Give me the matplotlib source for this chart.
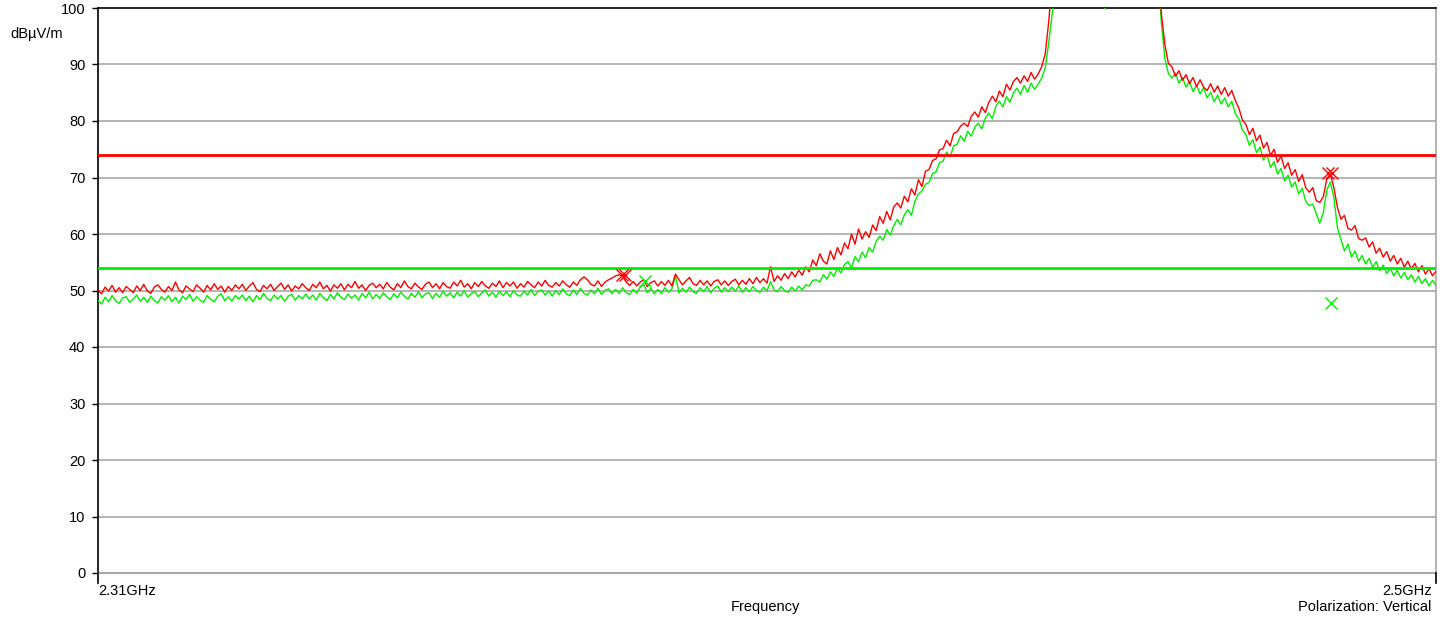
import numpy as np
import matplotlib
matplotlib.use("Agg")
import matplotlib.pyplot as plt

plt.rcParams['font.family'] = ['Liberation Sans', 'DejaVu Sans']

# Frequency axis (GHz), 0.5 MHz sweep points
f_start, f_stop = 2.31, 2.50
n_points = 381

red_trace = [
    50.1, 49.4, 50.6, 49.9, 50.9, 49.7, 50.5, 49.6, 50.7, 50.2, 49.6, 50.8, 50.0, 51.1, 49.9, 49.5, 50.6, 51.0, 50.2, 49.7,
    50.7, 50.0, 51.5, 50.1, 49.6, 50.8, 50.3, 49.8, 51.0, 50.4, 49.7, 50.9, 50.1, 51.2, 50.2, 50.8, 49.7, 50.7, 50.0, 51.0,
    50.3, 51.1, 50.0, 50.8, 51.4, 50.2, 49.8, 50.9, 50.3, 51.1, 50.0, 50.7, 51.3, 50.2, 51.0, 49.9, 50.8, 50.3, 51.2, 50.5,
    50.0, 51.1, 50.5, 51.5, 50.3, 50.9, 49.9, 51.0, 50.4, 51.2, 50.1, 51.1, 50.5, 51.6, 50.4, 51.0, 50.0, 50.9, 51.3, 50.5,
    51.1, 50.3, 51.4, 50.6, 50.1, 51.2, 50.5, 51.7, 50.7, 50.3, 51.3, 50.6, 50.2, 51.1, 51.5, 50.5, 51.2, 50.3, 51.4, 50.7,
    50.4, 51.5, 50.8, 51.8, 50.6, 51.2, 50.3, 51.4, 50.7, 51.6, 50.8, 50.4, 51.3, 50.7, 51.7, 50.5, 51.4, 50.8, 51.5, 50.4,
    51.2, 50.6, 51.6, 51.0, 50.5, 51.5, 50.8, 51.8, 50.9, 50.6, 51.4, 50.8, 51.7, 51.0, 50.6, 51.5, 50.9, 51.9, 52.4, 51.9,
    51.1, 50.8, 51.7, 50.7, 51.5, 51.9, 52.2, 52.6, 52.8, 52.5, 51.5, 50.9, 51.6, 50.8, 51.5, 51.9, 50.7, 51.4, 51.7, 50.8,
    51.6, 50.9, 51.8, 50.8, 52.9, 51.9, 51.0, 51.7, 52.3, 51.2, 50.9, 51.8, 51.0, 51.7, 50.8, 51.6, 51.9, 51.0, 51.7, 50.9,
    51.6, 52.0, 51.0, 51.8, 51.1, 52.1, 51.2, 52.3, 51.4, 52.1, 51.3, 54.2, 51.6, 52.6, 51.8, 53.0, 52.1, 53.3, 52.4, 53.6,
    52.7, 54.2, 53.3, 55.4, 54.4, 56.5, 55.2, 54.7, 57.0, 55.5, 57.6, 56.3, 58.4, 57.4, 60.0, 58.2, 60.9, 59.1, 60.4, 59.4,
    61.6, 60.6, 63.1, 61.9, 64.0, 62.5, 64.8, 65.5, 64.6, 66.7, 65.7, 68.0, 66.9, 69.6, 68.4, 71.1, 71.4, 73.0, 73.3, 74.9,
    75.1, 76.6, 75.6, 77.8, 78.1, 79.1, 79.6, 79.0, 80.8, 81.6, 80.7, 82.5, 81.5, 83.3, 84.4, 83.4, 85.3, 84.3, 86.5, 85.5,
    87.0, 87.7, 86.7, 88.0, 87.0, 88.6, 87.4, 88.3, 89.6, 91.8, 97.5, 105.0, 110.0, 112.0, 112.0, 112.0, 112.0, 112.0, 112.0, 112.0,
    112.0, 112.0, 112.0, 112.0, 112.0, 112.0, 112.0, 112.0, 112.0, 112.0, 112.0, 112.0, 112.0, 112.0, 112.0, 112.0, 112.0, 112.0, 112.0, 112.0,
    112.0, 108.0, 99.0, 93.5, 90.2, 89.6, 87.9, 88.9, 87.2, 88.2, 86.6, 87.7, 86.1, 87.3, 86.0, 85.4, 86.6, 85.1, 86.2, 84.7,
    85.9, 84.4, 85.4, 83.6, 82.3, 80.2, 79.4, 77.6, 78.7, 76.5, 77.5, 75.2, 76.2, 73.9, 75.0, 72.7, 73.8, 71.6, 72.6, 70.4,
    71.4, 69.3, 70.5, 68.2, 67.4, 68.2, 65.9, 65.6, 66.6, 69.8, 70.6, 68.2, 64.7, 62.6, 63.3, 61.0, 60.7, 61.5, 59.2, 58.9,
    59.3, 57.7, 58.6, 56.6, 57.5, 55.9, 56.9, 55.2, 56.2, 54.7, 55.7, 54.1, 55.2, 53.8, 54.8, 53.3, 54.4, 52.9, 53.9, 52.6,
    53.4,
]

green_trace = [
    48.2, 47.6, 48.8, 48.0, 49.1, 48.2, 47.7, 48.7, 48.9, 47.9, 48.5, 49.2, 48.1, 48.8, 47.9, 49.0, 48.2, 47.8, 48.9, 48.3,
    49.1, 48.0, 48.8, 47.8, 49.0, 48.4, 49.3, 48.1, 48.9, 48.3, 47.9, 49.1, 48.4, 48.0, 49.0, 49.4, 48.2, 48.9, 48.1, 49.1,
    48.5, 49.2, 48.2, 49.0, 48.0, 49.1, 48.4, 49.5, 48.6, 48.2, 49.2, 48.5, 49.1, 48.1, 49.0, 49.3, 48.3, 49.1, 48.5, 49.4,
    48.5, 49.2, 48.3, 49.5, 48.7, 48.2, 49.3, 48.5, 49.6, 48.8, 48.4, 49.4, 48.6, 49.2, 48.3, 49.5, 48.7, 49.7, 48.5, 49.3,
    48.6, 49.6, 48.9, 48.4, 49.4, 48.7, 49.7, 49.0, 48.5, 49.5, 48.8, 49.8, 48.7, 49.4, 49.6, 48.6, 49.5, 48.8, 49.9, 49.0,
    49.6, 48.7, 49.7, 49.0, 50.0, 48.8, 49.5, 49.8, 48.9, 49.6, 50.1, 49.0, 49.7, 48.8, 49.9, 49.1, 49.8, 48.9, 50.0, 49.2,
    49.0, 49.9, 49.2, 50.2, 49.1, 49.8, 50.1, 49.2, 49.9, 49.0, 50.0, 49.3, 50.3, 49.4, 49.1, 50.1, 49.3, 50.4, 49.5, 49.2,
    50.1, 49.4, 50.4, 49.3, 50.0, 50.3, 49.4, 50.2, 49.5, 50.5, 49.6, 49.3, 50.2, 49.5, 50.6, 51.1, 49.6, 50.4, 49.4, 50.2,
    49.5, 50.5, 49.7, 50.3, 52.6, 49.6, 50.4, 49.7, 50.6, 49.8, 49.5, 50.5, 49.8, 50.7, 49.6, 50.4, 50.8, 49.7, 50.5, 49.8,
    50.6, 49.9, 50.8, 49.7, 50.5, 49.8, 50.7, 50.0, 49.7, 50.6, 49.9, 51.6, 50.1, 49.8, 50.7, 50.0, 49.7, 50.6, 49.9, 50.8,
    50.1, 51.0, 50.8, 51.8, 51.9, 51.5, 52.8, 52.0, 53.3, 52.5, 54.0, 53.1, 54.6, 55.1, 54.0, 56.0, 55.1, 56.8, 55.8, 57.6,
    56.8, 58.7, 59.6, 58.9, 60.8, 59.8, 61.5, 62.6, 61.6, 63.4, 64.3, 63.3, 65.8, 67.1, 67.6, 68.8, 69.1, 70.7, 71.0, 72.6,
    72.9, 74.5, 73.6, 75.6, 75.9, 77.4, 76.4, 78.2, 77.3, 78.9, 79.6, 78.6, 80.5, 81.4, 80.4, 82.6, 83.5, 82.5, 84.3, 83.3,
    85.0, 85.8, 84.7, 86.3, 85.1, 86.7, 85.6, 86.5, 87.6, 89.3, 93.8, 99.0, 106.0, 112.0, 112.0, 112.0, 112.0, 112.0, 112.0, 112.0,
    112.0, 112.0, 112.0, 112.0, 112.0, 108.0, 99.8, 108.0, 112.0, 112.0, 112.0, 112.0, 112.0, 112.0, 112.0, 112.0, 112.0, 112.0, 112.0, 112.0,
    112.0, 106.0, 97.5, 91.0, 88.4, 87.6, 88.5, 86.7, 87.7, 86.0, 87.0, 85.2, 86.3, 84.8, 85.9, 84.1, 85.1, 83.4, 84.6, 83.0,
    84.1, 82.5, 83.5, 81.3, 80.4, 78.4, 77.6, 75.7, 76.7, 74.4, 75.4, 73.1, 74.1, 71.8, 72.8, 70.6, 71.6, 69.4, 70.4, 68.3,
    69.2, 67.1, 68.1, 65.8, 65.0, 65.3, 63.6, 61.9, 63.8, 67.8, 69.2, 66.5, 61.1, 59.0, 57.0, 58.2, 55.9, 57.0, 55.2, 56.2,
    54.7, 55.7, 54.1, 55.1, 53.5, 54.5, 53.0, 54.0, 52.6, 53.6, 52.2, 53.2, 51.9, 52.8, 51.5, 52.5, 51.2, 52.1, 50.8, 51.8,
    50.9,
]

# Limit lines (dBuV/m)
limit_peak = 74
limit_avg = 54

# Markers (GHz, dBuV/m)
red_marker_f = [2.3844, 2.3848, 2.4847, 2.4853]
red_marker_v = [52.7, 52.7, 70.8, 70.8]
green_marker_f = [2.3877, 2.4851]
green_marker_v = [51.7, 47.8]

y_ticks = [0, 10, 20, 30, 40, 50, 60, 70, 80, 90, 100]

freq = np.linspace(f_start, f_stop, n_points)

W, H = 1450, 623
fig = plt.figure(figsize=(W / 100, H / 100), dpi=100)
ax = fig.add_axes([98 / W, 1 - 573 / H, (1436 - 98) / W, (573 - 8) / H])

RED = '#ff0000'
GREEN = '#00ee00'
GRID = '#a8a8a8'
FS = 10.5

for yv in y_ticks[1:-1]:
    ax.axhline(yv, color=GRID, lw=1.2, zorder=1)

ax.plot(freq, green_trace, color=GREEN, lw=1.0, zorder=3)
ax.plot(freq, red_trace, color=RED, lw=1.0, zorder=4)

ax.axhline(limit_peak, color=RED, lw=2.0, zorder=5)
ax.axhline(limit_avg, color=GREEN, lw=2.0, zorder=5)

ax.plot(red_marker_f, red_marker_v, linestyle='none', marker='x', color=RED,
        markersize=8, markeredgewidth=1.0, zorder=6)
ax.plot(green_marker_f, green_marker_v, linestyle='none', marker='x', color=GREEN,
        markersize=9, markeredgewidth=1.0, zorder=6)

ax.set_xlim(f_start, f_stop)
ax.set_ylim(0, 100)
ax.set_yticks(y_ticks)
ax.set_yticklabels([str(v) for v in y_ticks], fontsize=FS)
ax.tick_params(axis='y', direction='out', length=4, width=1, pad=5, color='black')
ax.set_xticks([])

ax.spines['top'].set_color('black')
ax.spines['top'].set_linewidth(1.2)
ax.spines['left'].set_color('black')
ax.spines['left'].set_linewidth(1.2)
ax.spines['right'].set_color(GRID)
ax.spines['right'].set_linewidth(1.2)
ax.spines['bottom'].set_color(GRID)
ax.spines['bottom'].set_linewidth(1.5)

# small downward ticks at the x-axis ends
ax.plot([f_start, f_start], [0, -1.8], color='black', lw=1.2, clip_on=False, zorder=7)
ax.plot([f_stop, f_stop], [0, -1.8], color='black', lw=1.2, clip_on=False, zorder=7)

fig.text(98 / W, 1 - 591 / H, '2.31GHz', fontsize=FS, ha='left', va='center')
fig.text(1432 / W, 1 - 591 / H, '2.5GHz', fontsize=FS, ha='right', va='center')
fig.text(765 / W, 1 - 607 / H, 'Frequency', fontsize=FS, ha='center', va='center')
fig.text(1431 / W, 1 - 607 / H, 'Polarization: Vertical', fontsize=FS, ha='right', va='center')
fig.text(10 / W, 1 - 34 / H, 'dBµV/m', fontsize=FS, ha='left', va='center')

fig.savefig('out.png', dpi=100)
